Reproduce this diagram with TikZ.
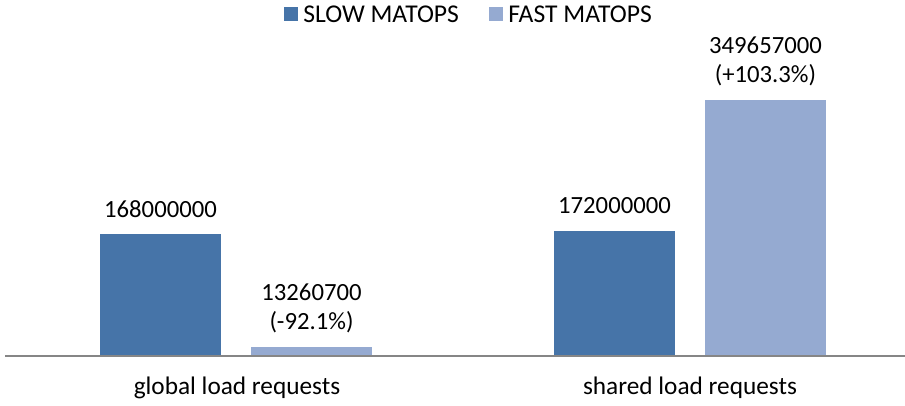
\documentclass[tikz,border=0pt]{standalone}
\usepackage{fontspec}
\setmainfont{Carlito}
\usepackage{xcolor}
\usetikzlibrary{positioning}

\definecolor{slowblue}{HTML}{4674A8}
\definecolor{fastblue}{HTML}{95AAD1}
\definecolor{axisgray}{HTML}{868686}

\begin{document}
\begin{tikzpicture}[x=1pt, y=-1pt,
  bar/.style={anchor=south west, minimum width=121pt, inner sep=0pt, outer sep=0pt},
  slowbar/.style={bar, fill=slowblue},
  fastbar/.style={bar, fill=fastblue},
  val/.style={font=\fontsize{24.7}{29}\selectfont, align=center, inner sep=0pt},
  cat/.style={font=\fontsize{25.3}{29}\selectfont, inner sep=0pt},
  key/.style={minimum size=14pt, inner sep=0pt},
  keytext/.style={font=\fontsize{25.6}{29}\selectfont, inner sep=0pt, anchor=west},
]
  \useasboundingbox (0,0) rectangle (905,406);

  % legend
  \node[key, fill=slowblue] (kslow) at (291,14) {};
  \node[keytext, right=5pt of kslow] (tslow) {SLOW MATOPS};
  \node[key, fill=fastblue] (kfast) at (496,14) {};
  \node[keytext, right=5pt of kfast] (tfast) {FAST MATOPS};

  % bars
  \node[slowbar, minimum height=121pt] (s1) at (100,355) {};
  \node[fastbar, minimum height=8pt]   (f1) at (251,355) {};
  \node[slowbar, minimum height=124pt] (s2) at (554,355) {};
  \node[fastbar, minimum height=255pt] (f2) at (705,355) {};

  \node[val, above=16pt of s1] (v1) {168000000};
  \node[val, above=14pt of f1] (v2) {13260700\\(-92.1\%)};
  \node[val, above=17pt of s2] (v3) {172000000};
  \node[val, above=14pt of f2] (v4) {349657000\\(+103.3\%)};

  % axis
  \coordinate (axl) at (5,356);
  \coordinate (axr) at (905,356);
  \draw[axisgray, line width=2pt] (axl) -- (axr);

  \node[cat] (c1) at (237,388) {global load requests};
  \node[cat] (c2) at (690,388) {shared load requests};
\end{tikzpicture}
\end{document}
